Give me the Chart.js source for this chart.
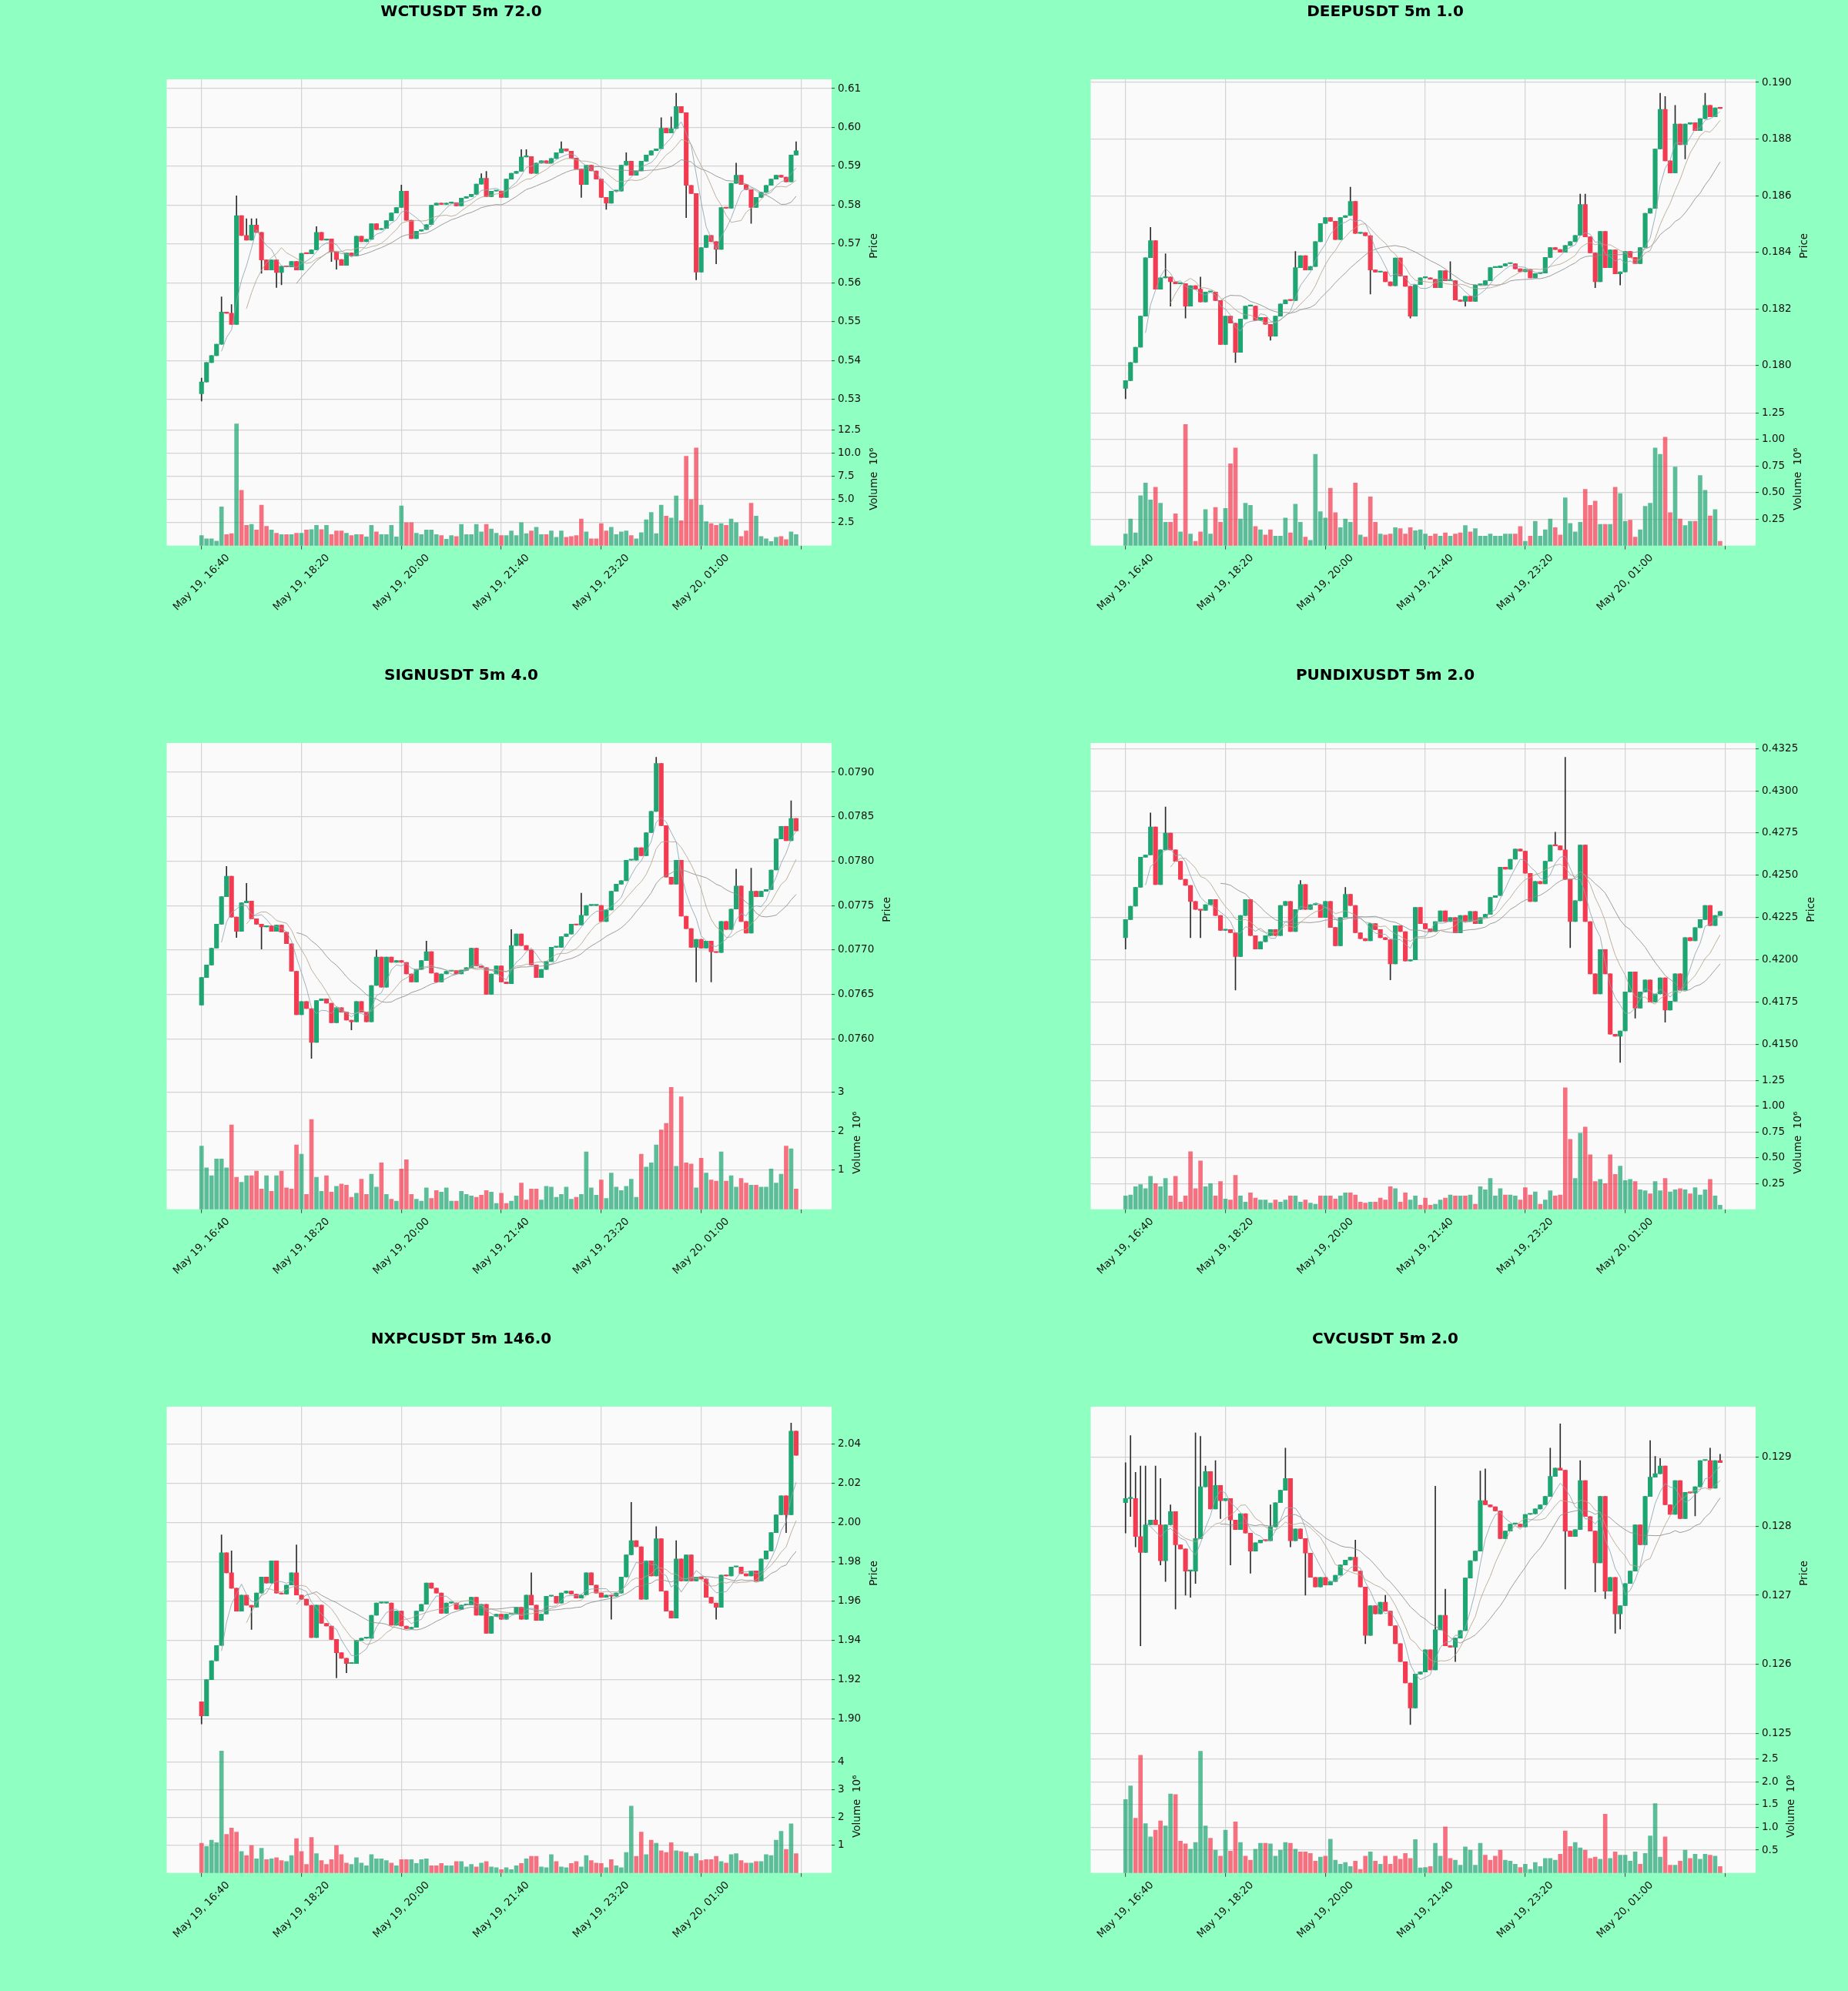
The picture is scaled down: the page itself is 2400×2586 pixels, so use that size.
<!DOCTYPE html>
<html>
<head>
<meta charset="utf-8">
<script src="https://cdn.jsdelivr.net/npm/chart.js@4.4.1/dist/chart.umd.min.js"></script>
<style>
  html, body { margin: 0; padding: 0; background: #90ffc2; }
  #fig { position: relative; width: 2400px; height: 2586px; }
  #fig canvas { position: absolute; }
</style>
</head>
<body>
<div id="fig"></div>
<script>
// x axis: one bar per 5 minutes, ticks every 20 bars
const tickIdx = [0, 20, 40, 60, 80, 100, 120];
const tickLabels = ['May 19, 16:40', 'May 19, 18:20', 'May 19, 20:00', 'May 19, 21:40', 'May 19, 23:20', 'May 20, 01:00', ''];
const maPeriods = [5, 10, 20];

// ---- WCTUSDT ----
const wctOpen0 = 0.5315;
const wctClose = [
  0.5345,0.5395,0.5413,0.5442,0.5525,0.5522,0.5493,0.5773,0.5722,0.5710,
  0.5749,0.5730,0.5659,0.5633,0.5659,0.5627,0.5643,0.5641,0.5655,0.5633,
  0.5676,0.5675,0.5685,0.5730,0.5710,0.5713,0.5680,0.5660,0.5645,0.5677,
  0.5670,0.5720,0.5706,0.5712,0.5752,0.5737,0.5740,0.5760,0.5780,0.5794,
  0.5836,0.5761,0.5714,0.5733,0.5737,0.5750,0.5800,0.5805,0.5802,0.5805,
  0.5806,0.5798,0.5818,0.5822,0.5828,0.5854,0.5869,0.5822,0.5836,0.5836,
  0.5820,0.5867,0.5882,0.5887,0.5924,0.5925,0.5882,0.5908,0.5914,0.5908,
  0.5920,0.5935,0.5945,0.5939,0.5921,0.5893,0.5853,0.5903,0.5888,0.5867,
  0.5820,0.5805,0.5836,0.5836,0.5903,0.5913,0.5877,0.5888,0.5913,0.5929,
  0.5940,0.5945,0.5998,0.5986,0.5997,0.6054,0.6038,0.5851,0.5830,0.5628,
  0.5691,0.5722,0.5706,0.5686,0.5794,0.5792,0.5856,0.5877,0.5853,0.5840,
  0.5794,0.5820,0.5833,0.5851,0.5867,0.5877,0.5872,0.5860,0.5929,0.5940];
const wctHigh = {0:0.5355, 4:0.5564, 6:0.5544, 7:0.5824, 9:0.5765, 10:0.5765, 11:0.5765, 23:0.5745, 40:0.5852, 56:0.5881, 57:0.5887, 64:0.5943, 65:0.5943, 72:0.5963, 85:0.5935, 92:0.6025, 94:0.6027, 95:0.6088, 107:0.5908, 119:0.5963};
const wctLow = {0:0.5296, 12:0.5625, 15:0.5588, 16:0.5595, 26:0.5655, 27:0.5635, 76:0.5820, 81:0.5789, 97:0.5768, 99:0.5608, 103:0.5649, 110:0.5753};
const wctVol = [
  1.1,0.75,0.75,0.5,4.2,1.2,1.3,13.2,6.0,2.2,
  2.3,1.7,4.4,2.1,1.7,1.35,1.2,1.2,1.2,1.35,
  1.35,1.7,1.75,2.2,1.75,2.2,1.2,1.6,1.6,1.35,
  1.1,1.2,1.2,0.95,2.2,1.5,1.2,1.2,2.2,0.95,
  4.3,2.5,2.5,1.35,1.2,1.7,1.7,1.2,1.1,0.7,
  1.1,1.0,2.3,1.2,1.2,2.3,1.5,2.3,1.8,1.35,
  1.1,1.1,1.6,1.1,2.5,1.3,1.6,2.0,1.2,1.2,
  1.6,0.9,1.6,0.9,1.0,1.1,2.9,1.5,0.75,0.75,
  2.4,1.6,2.0,1.2,1.5,1.6,1.1,0.75,1.4,2.8,
  3.6,1.3,4.4,3.2,3.0,5.4,2.7,9.7,5.0,10.6,
  4.4,2.6,2.4,2.2,2.4,2.2,2.9,2.5,1.0,1.6,
  4.6,3.2,1.0,0.75,0.45,0.9,1.0,0.65,1.5,1.2];
const wctPriceTicks = [0.53,0.54,0.55,0.56,0.57,0.58,0.59,0.60,0.61];
const wctVolTicks = [2.5,5.0,7.5,10.0,12.5];

// ---- DEEPUSDT ----
const deepOpen0 = 0.1792;
const deepClose = [
  0.17947,0.18011,0.18065,0.18175,0.18381,0.18441,0.1827,0.1831,0.18313,0.18296,
  0.18289,0.1829,0.1821,0.18282,0.1827,0.18225,0.1826,0.1826,0.1823,0.18075,
  0.18175,0.1815,0.18047,0.18165,0.1821,0.1821,0.1816,0.1817,0.18146,0.18104,
  0.18175,0.18218,0.18232,0.1823,0.18346,0.18388,0.18338,0.1835,0.18438,0.18502,
  0.18523,0.1851,0.18445,0.18523,0.1853,0.1858,0.18467,0.1847,0.18459,0.18338,
  0.1833,0.18331,0.18296,0.18282,0.1838,0.18317,0.1828,0.18175,0.18286,0.1831,
  0.1831,0.18305,0.18275,0.18335,0.183,0.1830,0.18232,0.18227,0.18245,0.18227,
  0.18285,0.18285,0.183,0.18346,0.18346,0.18352,0.1836,0.1836,0.18342,0.18332,
  0.1834,0.1831,0.18325,0.18327,0.18382,0.18417,0.1841,0.184,0.18424,0.18438,
  0.1846,0.18569,0.18455,0.18398,0.18296,0.18474,0.18346,0.18409,0.18324,0.18331,
  0.18403,0.18382,0.1836,0.18417,0.18538,0.18555,0.18765,0.18905,0.18723,0.1868,
  0.18853,0.1878,0.18853,0.18858,0.1883,0.18872,0.18919,0.18879,0.1891,0.18908];
const deepHigh = {5:0.18488, 8:0.18395, 15:0.18313, 34:0.18403, 45:0.1863, 65:0.18367, 91:0.18606, 92:0.18606, 107:0.18962, 108:0.1895, 110:0.18919, 116:0.18962};
const deepLow = {0:0.17883, 9:0.1821, 12:0.18168, 22:0.18011, 29:0.1809, 49:0.18253, 57:0.18168, 68:0.1821, 94:0.18275, 99:0.18285, 112:0.1873};
const deepVol = [
  0.11,0.25,0.12,0.47,0.59,0.43,0.55,0.40,0.22,0.22,
  0.30,0.13,1.14,0.11,0.04,0.13,0.34,0.11,0.36,0.22,
  0.35,0.77,0.92,0.25,0.40,0.38,0.18,0.15,0.10,0.15,
  0.09,0.09,0.26,0.12,0.39,0.22,0.08,0.05,0.86,0.32,
  0.26,0.54,0.31,0.17,0.25,0.22,0.59,0.10,0.08,0.46,
  0.22,0.11,0.10,0.11,0.17,0.16,0.11,0.17,0.14,0.15,
  0.11,0.09,0.11,0.09,0.12,0.09,0.11,0.12,0.19,0.13,
  0.16,0.09,0.09,0.11,0.09,0.09,0.11,0.11,0.11,0.18,
  0.04,0.09,0.23,0.09,0.15,0.25,0.17,0.10,0.45,0.21,
  0.13,0.22,0.53,0.38,0.42,0.20,0.20,0.20,0.55,0.49,
  0.23,0.24,0.08,0.15,0.37,0.40,0.92,0.86,1.02,0.31,
  0.74,0.25,0.19,0.23,0.23,0.66,0.52,0.28,0.34,0.04];
const deepPriceTicks = [0.180,0.182,0.184,0.186,0.188,0.190];
const deepVolTicks = [0.25,0.50,0.75,1.00,1.25];

// ---- SIGNUSDT ----
const signOpen0 = 0.07638;
const signClose = [
  0.07669,0.07683,0.07702,0.07729,0.0776,0.07783,0.07737,0.07721,0.07753,0.07755,
  0.07735,0.07729,0.07726,0.07727,0.07721,0.07728,0.0772,0.07707,0.07676,0.07627,
  0.07642,0.07634,0.07596,0.07643,0.07645,0.0764,0.07618,0.07635,0.0763,0.07621,
  0.07619,0.07642,0.0763,0.07619,0.0766,0.07692,0.07658,0.07692,0.07686,0.07688,
  0.07686,0.07673,0.07664,0.07678,0.07688,0.07698,0.07674,0.07664,0.07673,0.07676,
  0.07677,0.07673,0.07677,0.0768,0.07702,0.07682,0.0768,0.0765,0.07673,0.07682,
  0.07664,0.07662,0.07705,0.07718,0.07705,0.077,0.07683,0.07669,0.07678,0.07687,
  0.07703,0.07703,0.07715,0.07718,0.07729,0.07728,0.07739,0.0775,0.0775,0.0775,
  0.07732,0.07745,0.07766,0.07774,0.07778,0.07801,0.07801,0.07815,0.07806,0.07832,
  0.07856,0.0791,0.0784,0.07782,0.07774,0.07801,0.07738,0.07724,0.07703,0.07712,
  0.07702,0.0771,0.07698,0.07697,0.07732,0.07723,0.07746,0.07772,0.07732,0.07719,
  0.07766,0.0776,0.07766,0.07768,0.0779,0.07825,0.07839,0.07823,0.07848,0.07834];
const signHigh = {5:0.07794, 9:0.07775, 35:0.077, 45:0.0771, 62:0.07723, 76:0.07764, 91:0.07917, 107:0.07791, 110:0.07792, 118:0.07868};
const signLow = {7:0.07714, 12:0.07701, 22:0.07578, 30:0.0761, 99:0.07664, 102:0.07664};
const signVol = [
  1.62,1.06,0.86,1.29,1.29,1.06,2.16,0.82,0.69,0.86,
  0.86,0.98,0.52,0.86,0.46,0.86,0.98,0.55,0.52,1.65,
  1.41,0.38,2.30,0.82,0.46,0.86,0.44,0.59,0.65,0.62,
  0.31,0.41,0.77,0.38,0.90,0.57,1.19,0.38,0.26,0.21,
  1.03,1.27,0.38,0.26,0.21,0.55,0.28,0.48,0.44,0.55,
  0.21,0.21,0.46,0.38,0.34,0.31,0.36,0.48,0.44,0.15,
  0.41,0.15,0.21,0.34,0.67,0.24,0.52,0.52,0.24,0.59,
  0.57,0.31,0.38,0.57,0.26,0.31,0.38,1.47,0.55,0.36,
  0.75,0.28,0.93,0.57,0.48,0.59,0.77,0.31,1.41,1.08,
  1.19,1.65,2.03,2.20,3.12,1.10,2.88,1.19,1.16,0.55,
  1.31,0.93,0.75,0.72,1.47,0.72,0.86,0.57,0.79,0.67,
  0.62,0.62,0.57,0.57,1.03,0.67,0.90,1.62,1.55,0.52];
const signPriceTicks = [0.0760,0.0765,0.0770,0.0775,0.0780,0.0785,0.0790];
const signVolTicks = [1,2,3];

// ---- PUNDIXUSDT ----
const pundixOpen0 = 0.42131;
const pundixClose = [
  0.42238,0.42317,0.42429,0.42607,0.4262,0.42786,0.42445,0.4265,0.4275,0.4265,
  0.42583,0.42476,0.4244,0.42345,0.42298,0.42293,0.42326,0.42357,0.42262,0.42174,
  0.42179,0.4216,0.42019,0.42262,0.42357,0.42143,0.42064,0.42107,0.42143,0.42179,
  0.42143,0.42321,0.42345,0.42167,0.42298,0.42445,0.42298,0.42326,0.42326,0.4225,
  0.42345,0.42191,0.42083,0.4225,0.42388,0.42321,0.4216,0.42125,0.42112,0.42214,
  0.42179,0.42131,0.42119,0.41976,0.42202,0.42167,0.41993,0.4200,0.4231,0.42214,
  0.42183,0.42167,0.42226,0.4229,0.42226,0.4225,0.42159,0.42262,0.42226,0.42286,
  0.42214,0.4225,0.42269,0.42369,0.4238,0.42548,0.42536,0.42595,0.42655,0.42643,
  0.42512,0.42345,0.42464,0.4245,0.42583,0.42679,0.42674,0.4265,0.42476,0.42226,
  0.4235,0.42679,0.42226,0.41917,0.41798,0.4206,0.41917,0.4156,0.41548,0.41579,
  0.4181,0.41929,0.41714,0.4181,0.41881,0.4175,0.41798,0.41893,0.41702,0.41755,
  0.41917,0.41821,0.42131,0.42112,0.4219,0.42238,0.42321,0.42202,0.42262,0.42286];
const pundixHigh = {5:0.42869, 8:0.42905, 35:0.42469, 44:0.42429, 86:0.42755, 88:0.43198};
const pundixLow = {0:0.42064, 13:0.42131, 15:0.42131, 22:0.41821, 53:0.41881, 89:0.42071, 99:0.41393, 102:0.41655, 108:0.41631};
const pundixVol = [
  0.13,0.14,0.22,0.24,0.20,0.32,0.25,0.22,0.30,0.13,
  0.32,0.07,0.13,0.56,0.20,0.47,0.22,0.25,0.13,0.27,
  0.10,0.09,0.33,0.13,0.07,0.16,0.11,0.09,0.09,0.06,
  0.09,0.07,0.09,0.13,0.13,0.07,0.09,0.06,0.05,0.13,
  0.13,0.13,0.10,0.13,0.16,0.16,0.14,0.07,0.06,0.07,
  0.07,0.11,0.09,0.22,0.20,0.07,0.16,0.09,0.13,0.04,
  0.11,0.04,0.05,0.09,0.11,0.14,0.13,0.13,0.13,0.14,
  0.05,0.22,0.19,0.30,0.13,0.20,0.14,0.14,0.13,0.09,
  0.21,0.14,0.17,0.05,0.09,0.18,0.13,0.14,1.18,0.68,
  0.30,0.74,0.80,0.53,0.27,0.29,0.25,0.53,0.34,0.42,
  0.28,0.29,0.27,0.19,0.18,0.15,0.27,0.18,0.30,0.17,
  0.19,0.20,0.19,0.15,0.21,0.14,0.19,0.29,0.13,0.04];
const pundixPriceTicks = [0.4150,0.4175,0.4200,0.4225,0.4250,0.4275,0.4300,0.4325];
const pundixVolTicks = [0.25,0.50,0.75,1.00,1.25];

// ---- NXPCUSDT ----
const nxpcOpen0 = 1.9087;
const nxpcClose = [
  1.9015,1.92,1.9296,1.9374,1.9846,1.9744,1.9666,1.9549,1.9631,1.9579,
  1.957,1.9641,1.9723,1.9692,1.9805,1.9641,1.9636,1.9682,1.9744,1.9631,
  1.961,1.9579,1.9415,1.958,1.9487,1.9473,1.9405,1.9337,1.9309,1.9282,
  1.9282,1.94,1.9411,1.9411,1.9528,1.959,1.959,1.959,1.9477,1.9549,
  1.9473,1.946,1.9467,1.9549,1.9584,1.9692,1.9666,1.9641,1.9538,1.959,
  1.959,1.9559,1.958,1.958,1.962,1.9528,1.9584,1.9436,1.9522,1.9534,
  1.9508,1.9534,1.9534,1.9569,1.9508,1.9631,1.958,1.9502,1.9534,1.9625,
  1.9625,1.959,1.9641,1.9651,1.9636,1.9616,1.9631,1.9744,1.9682,1.9641,
  1.962,1.9631,1.9625,1.9641,1.9723,1.9836,1.9908,1.9877,1.961,1.9805,
  1.9728,1.9918,1.9651,1.9549,1.9514,1.9815,1.9703,1.9836,1.9703,1.9723,
  1.9713,1.962,1.959,1.9569,1.9733,1.9728,1.9774,1.9774,1.974,1.9728,
  1.9754,1.9703,1.9815,1.9856,1.9949,2.004,2.0137,2.004,2.0466,2.0343];
const nxpcHigh = {4:1.9938, 6:1.9856, 19:1.9887, 66:1.9744, 86:2.0103, 91:1.998, 95:1.9908, 118:2.0507};
const nxpcLow = {0:1.8974, 10:1.9456, 27:1.921, 29:1.9235, 82:1.9508, 103:1.9508, 117:1.9949};
const nxpcVol = [
  1.07,0.95,1.18,1.09,4.39,1.39,1.62,1.47,0.77,0.63,
  0.99,0.51,0.89,0.48,0.51,0.55,0.45,0.41,0.63,1.24,
  0.77,0.31,1.28,0.70,0.45,0.31,0.48,0.99,0.66,0.36,
  0.31,0.55,0.36,0.26,0.66,0.51,0.51,0.45,0.36,0.26,
  0.48,0.48,0.48,0.34,0.48,0.51,0.26,0.26,0.34,0.26,
  0.26,0.41,0.41,0.22,0.31,0.22,0.36,0.41,0.22,0.19,
  0.12,0.19,0.12,0.26,0.34,0.51,0.60,0.60,0.22,0.19,
  0.66,0.41,0.22,0.19,0.34,0.41,0.22,0.63,0.45,0.36,
  0.34,0.19,0.48,0.26,0.19,0.74,2.41,0.60,1.47,0.66,
  1.18,1.07,0.80,0.74,1.09,0.80,0.77,0.74,0.60,0.70,
  0.45,0.48,0.48,0.60,0.41,0.36,0.66,0.70,0.45,0.36,
  0.36,0.41,0.41,0.66,0.63,1.18,1.50,0.85,1.77,0.70];
const nxpcPriceTicks = [1.90,1.92,1.94,1.96,1.98,2.00,2.02,2.04];
const nxpcVolTicks = [1,2,3,4];

// ---- CVCUSDT ----
const cvcOpen0 = 0.12834;
const cvcClose = [
  0.1284,0.1284,0.12785,0.12762,0.12802,0.12809,0.12802,0.1275,0.12802,0.12821,
  0.12773,0.12767,0.12735,0.12735,0.12782,0.12857,0.12879,0.12825,0.12859,0.12837,
  0.1284,0.12809,0.12795,0.12818,0.1279,0.12764,0.12776,0.1278,0.12779,0.12799,
  0.12834,0.12852,0.12869,0.12779,0.12796,0.12782,0.12761,0.12726,0.12712,0.12726,
  0.12715,0.1272,0.12729,0.12744,0.12751,0.12755,0.12735,0.12712,0.12642,0.12685,
  0.12673,0.1269,0.12677,0.12656,0.1263,0.12604,0.12573,0.12537,0.12586,0.12589,
  0.12621,0.12592,0.1265,0.12671,0.12627,0.12625,0.12638,0.12649,0.12725,0.1275,
  0.12764,0.12837,0.12831,0.12828,0.12822,0.12782,0.12793,0.12803,0.12803,0.12799,
  0.12817,0.12818,0.12825,0.12831,0.12843,0.12872,0.12884,0.12881,0.12793,0.12785,
  0.12795,0.12866,0.12814,0.12793,0.12747,0.12843,0.12706,0.12726,0.12673,0.12685,
  0.12717,0.12735,0.12802,0.12773,0.12843,0.12871,0.12876,0.12887,0.12831,0.12817,
  0.12866,0.12811,0.12849,0.12848,0.12857,0.12895,0.12895,0.12855,0.12895,0.12892];
const cvcHigh = {0:0.12892, 1:0.12931, 2:0.12878, 3:0.12887, 4:0.12887, 6:0.12887, 7:0.12869, 9:0.12831, 14:0.12935, 15:0.1293, 16:0.12887, 18:0.12895, 29:0.12831, 32:0.12913, 46:0.1278, 52:0.127, 62:0.12858, 64:0.12709, 71:0.1288, 72:0.12883, 85:0.12913, 87:0.12948, 91:0.12895, 105:0.12924, 106:0.12901, 107:0.12898, 117:0.12913, 119:0.12904};
const cvcLow = {0:0.1279, 1:0.12814, 2:0.1277, 3:0.12627, 7:0.12744, 8:0.1272, 10:0.1268, 12:0.127, 13:0.12697, 14:0.12717, 19:0.12811, 21:0.12744, 25:0.12732, 33:0.1277, 36:0.127, 48:0.1263, 57:0.12513, 66:0.12604, 88:0.12709, 94:0.12705, 96:0.12695, 98:0.12645, 99:0.12651, 114:0.12815};
const cvcVol = [
  1.61,1.91,1.20,2.58,1.08,0.79,0.94,1.14,1.03,1.73,
  1.72,0.70,0.64,0.52,0.67,2.67,1.03,0.76,0.50,0.37,
  0.94,0.48,1.12,0.67,0.37,0.28,0.52,0.65,0.65,0.64,
  0.37,0.50,0.67,0.65,0.52,0.46,0.46,0.43,0.26,0.35,
  0.37,0.74,0.28,0.19,0.23,0.14,0.26,0.08,0.37,0.46,
  0.26,0.19,0.37,0.19,0.37,0.30,0.43,0.32,0.73,0.11,
  0.12,0.14,0.65,0.37,1.01,0.32,0.28,0.17,0.57,0.50,
  0.17,0.65,0.39,0.28,0.37,0.50,0.28,0.26,0.19,0.12,
  0.19,0.08,0.23,0.14,0.32,0.32,0.28,0.41,0.92,0.58,
  0.67,0.55,0.50,0.32,0.35,0.30,1.29,0.32,0.46,0.39,
  0.39,0.26,0.46,0.19,0.43,0.81,1.52,0.35,0.79,0.17,
  0.17,0.26,0.50,0.32,0.41,0.30,0.41,0.39,0.37,0.14];
const cvcPriceTicks = [0.125,0.126,0.127,0.128,0.129];
const cvcVolTicks = [0.5,1.0,1.5,2.0,2.5];

const UP = '#1ea672', DOWN = '#f23b50';
const UP_VOL = 'rgba(30,166,114,0.72)', DOWN_VOL = 'rgba(242,59,80,0.72)';
const MA_COLORS = ['rgba(140,165,178,0.85)', 'rgba(180,165,140,0.85)', 'rgba(140,140,140,0.85)'];
const GRID = '#d3d3d3';
const FONT = 'DejaVu Sans';

Chart.defaults.font.family = FONT;

const panels = [
  {title: 'WCTUSDT 5m 72.0', open0: wctOpen0, close: wctClose, high: wctHigh, low: wctLow, vol: wctVol,
   pMin: 0.52668, pMax: 0.61238, pTicks: wctPriceTicks, pDec: 2, vMax: 14.45, vTicks: wctVolTicks, vDec: 1},
  {title: 'DEEPUSDT 5m 1.0', open0: deepOpen0, close: deepClose, high: deepHigh, low: deepLow, vol: deepVol,
   pMin: 0.17835, pMax: 0.19011, pTicks: deepPriceTicks, pDec: 3, vMax: 1.254, vTicks: deepVolTicks, vDec: 2},
  {title: 'SIGNUSDT 5m 4.0', open0: signOpen0, close: signClose, high: signHigh, low: signLow, vol: signVol,
   pMin: 0.07558, pMax: 0.07933, pTicks: signPriceTicks, pDec: 4, vMax: 3.41, vTicks: signVolTicks, vDec: 0},
  {title: 'PUNDIXUSDT 5m 2.0', open0: pundixOpen0, close: pundixClose, high: pundixHigh, low: pundixLow, vol: pundixVol,
   pMin: 0.41312, pMax: 0.43283, pTicks: pundixPriceTicks, pDec: 4, vMax: 1.294, vTicks: pundixVolTicks, vDec: 2},
  {title: 'NXPCUSDT 5m 146.0', open0: nxpcOpen0, close: nxpcClose, high: nxpcHigh, low: nxpcLow, vol: nxpcVol,
   pMin: 1.8894, pMax: 2.0591, pTicks: nxpcPriceTicks, pDec: 2, vMax: 4.80, vTicks: nxpcVolTicks, vDec: 0},
  {title: 'CVCUSDT 5m 2.0', open0: cvcOpen0, close: cvcClose, high: cvcHigh, low: cvcLow, vol: cvcVol,
   pMin: 0.12491, pMax: 0.12973, pTicks: cvcPriceTicks, pDec: 3, vMax: 2.92, vTicks: cvcVolTicks, vDec: 1}
];

function movingAvg(vals, n) {
  return vals.map(function (v, i) {
    if (i < n - 1) return {x: i, y: null};
    let s = 0;
    for (let k = i - n + 1; k <= i; k++) s += vals[k];
    return {x: i, y: s / n};
  });
}

function buildPanel(p, k) {
  const fig = document.getElementById('fig');
  const cv = document.createElement('canvas');
  cv.width = 1200; cv.height = 862;
  cv.style.left = (k % 2) * 1200 + 'px';
  cv.style.top = Math.floor(k / 2) * 862 + 'px';
  cv.style.width = '1200px'; cv.style.height = '862px';
  fig.appendChild(cv);

  // each bar opens where the previous one closed
  const opens = p.close.map(function (c, i) { return i === 0 ? p.open0 : p.close[i - 1]; });
  const bodies = [], wicks = [], vols = [], bodyCol = [], volCol = [];
  p.close.forEach(function (c, i) {
    const o = opens[i];
    const up = c >= o;
    const hi = Math.max(o, c, p.high[i] !== undefined ? p.high[i] : -Infinity);
    const lo = Math.min(o, c, p.low[i] !== undefined ? p.low[i] : Infinity);
    bodies.push({x: i, y: [o, c]});
    wicks.push({x: i, y: [lo, hi]});
    vols.push({x: i, y: p.vol[i]});
    bodyCol.push(up ? UP : DOWN);
    volCol.push(up ? UP_VOL : DOWN_VOL);
  });

  const maSets = maPeriods.map(function (n, j) {
    return {
      type: 'line', data: movingAvg(p.close, n), yAxisID: 'price', xAxisID: 'x',
      borderColor: MA_COLORS[j], borderWidth: 1, pointRadius: 0, spanGaps: false, order: 0
    };
  });

  const decor = {
    id: 'decor' + k,
    beforeDraw: function (chart) {
      const a = chart.chartArea, ctx = chart.ctx;
      ctx.save();
      ctx.fillStyle = '#fafafa';
      ctx.fillRect(a.left, a.top, a.right - a.left, a.bottom - a.top);
      ctx.restore();
    },
    afterDraw: function (chart) {
      const a = chart.chartArea, ctx = chart.ctx;
      const xs = chart.scales.x, ps = chart.scales.price, vs = chart.scales.vol;
      ctx.save();
      ctx.fillStyle = '#000';
      // title
      ctx.font = 'bold 20px "' + FONT + '"';
      ctx.textAlign = 'center';
      ctx.textBaseline = 'middle';
      ctx.fillText(p.title, 599, 16);
      // rotated date labels, centred under each tick
      ctx.font = '13.5px "' + FONT + '"';
      ctx.fillStyle = '#111';
      tickIdx.forEach(function (v, j) {
        if (!tickLabels[j]) return;
        ctx.save();
        ctx.translate(xs.getPixelForValue(v), a.bottom + 48);
        ctx.rotate(-Math.PI / 4);
        ctx.fillText(tickLabels[j], 0, 0);
        ctx.restore();
      });
      // axis names on the right
      function widest(scale) {
        let w = 0;
        scale.ticks.forEach(function (t) { w = Math.max(w, ctx.measureText(String(t.label)).width); });
        return w;
      }
      const pw = widest(ps), vw = widest(vs);
      ctx.save();
      ctx.translate(a.right + 8 + pw + 17, (ps.top + ps.bottom) / 2);
      ctx.rotate(-Math.PI / 2);
      ctx.fillText('Price', 0, 0);
      ctx.restore();
      ctx.save();
      ctx.translate(a.right + 8 + vw + 17, (vs.top + vs.bottom) / 2);
      ctx.rotate(-Math.PI / 2);
      ctx.fillText('Volume  10\u2076', 0, 0);
      ctx.restore();
      ctx.restore();
    }
  };

  function yAxis(stackWeight, min, max, ticks, dec) {
    return {
      type: 'linear', position: 'right', stack: 'panel', stackWeight: stackWeight,
      min: min, max: max,
      afterBuildTicks: function (s) { s.ticks = ticks.map(function (v) { return {value: v}; }); },
      afterFit: function (s) { s.width = 70; },
      ticks: {
        callback: function (v) { return Number(v).toFixed(dec); },
        font: {size: 13.5}, color: '#111', padding: 4, autoSkip: false
      },
      grid: {color: GRID, lineWidth: 1.2, tickLength: 4, tickColor: '#444', tickWidth: 1},
      border: {display: false}
    };
  }

  new Chart(cv, {
    type: 'bar',
    data: {
      datasets: maSets.concat([
        {type: 'bar', data: bodies, yAxisID: 'price', xAxisID: 'x', backgroundColor: bodyCol,
         barThickness: 5.5, minBarLength: 1.5, grouped: false, borderWidth: 0, order: 1},
        {type: 'bar', data: wicks, yAxisID: 'price', xAxisID: 'x', backgroundColor: '#2b2b2b',
         barThickness: 1, grouped: false, borderWidth: 0, order: 2},
        {type: 'bar', data: vols, yAxisID: 'vol', xAxisID: 'x', backgroundColor: volCol,
         barThickness: 5, grouped: false, borderWidth: 0, order: 3}
      ])
    },
    options: {
      responsive: false, animation: false, devicePixelRatio: 1,
      layout: {padding: {left: 216.5, top: 103, right: 50, bottom: 53.3}},
      plugins: {legend: {display: false}, tooltip: {enabled: false}, title: {display: false}},
      scales: {
        x: {
          type: 'linear', position: 'bottom', min: -6.97, max: 126.1, offset: false,
          afterBuildTicks: function (s) { s.ticks = tickIdx.map(function (v) { return {value: v}; }); },
          afterFit: function (s) { s.height = 100; },
          ticks: {display: false},
          grid: {color: GRID, lineWidth: 1.2, offset: false, tickLength: 5, tickColor: '#444', tickWidth: 1},
          border: {display: false}
        },
        price: yAxis(5, p.pMin, p.pMax, p.pTicks, p.pDec),
        vol: yAxis(2, 0, p.vMax, p.vTicks, p.vDec)
      }
    },
    plugins: [decor]
  });
}

panels.forEach(buildPanel);
</script>
</body>
</html>
